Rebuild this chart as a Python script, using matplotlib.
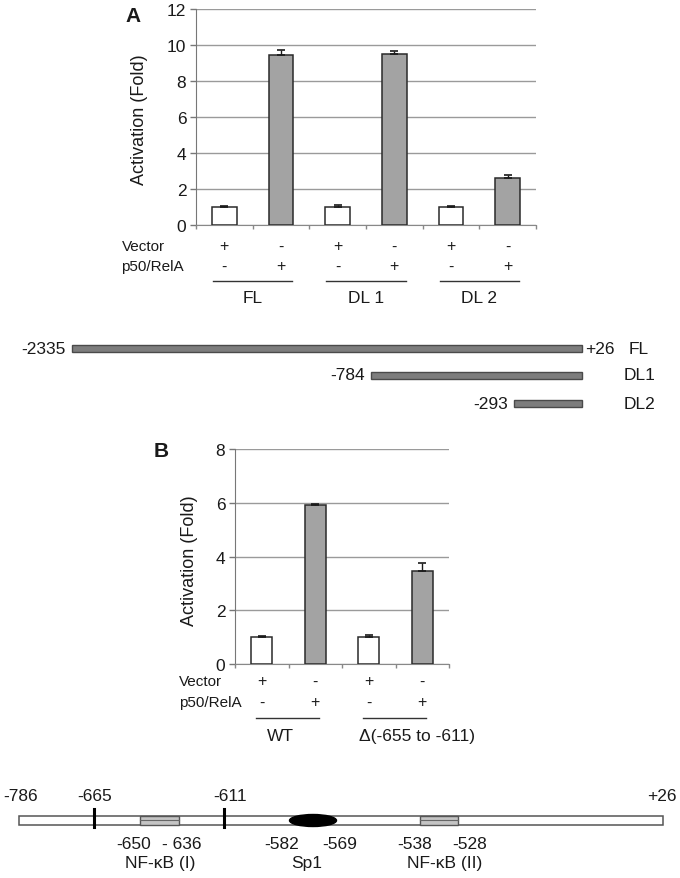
import matplotlib
matplotlib.use('Agg')
import matplotlib.pyplot as plt
from matplotlib.patches import Rectangle, Ellipse
from matplotlib import transforms
import numpy as np

plt.rcParams['font.family'] = ['Liberation Sans', 'DejaVu Sans']

# ---------------- data ----------------
A_groups = ["FL", "DL 1", "DL 2"]
A_vector_vals = [1.0, 1.0, 1.0]
A_vector_err = [0.03, 0.10, 0.03]
A_p50_vals = [9.45, 9.52, 2.62]
A_p50_err = [0.27, 0.12, 0.18]

B_groups = ["WT", "\u0394(-655 to -611)"]
B_vector_vals = [1.0, 1.0]
B_vector_err = [0.03, 0.08]
B_p50_vals = [5.9, 3.47]
B_p50_err = [0.07, 0.28]

vector_signs = ["+", "-"]
p50_signs = ["-", "+"]

construct_names = ["FL", "DL1", "DL2"]
construct_starts = ["-2335", "-784", "-293"]
construct_end = "+26"

top_labels = ["-786", "-665", "-611", "+26"]
site_names = ["NF-\u03baB (I)", "Sp1", "NF-\u03baB (II)"]
site_bounds = [("-650", "- 636"), ("-582", "-569"), ("-538", "-528")]

# ---------------- figure ----------------
W, H = 680, 879
fig = plt.figure(figsize=(6.8, 8.79), dpi=100)
ov = fig.add_axes([0, 0, 1, 1])
ov.set_xlim(0, W)
ov.set_ylim(H, 0)
ov.axis('off')

TXT = '#1a1a1a'


def px_axes(l, r, t, b):
    return fig.add_axes([l / W, 1 - b / H, (r - l) / W, (b - t) / H])


def bar_panel(ax, vec_vals, vec_err, p50_vals, p50_err, ymax, ystep, width):
    n = len(vec_vals)
    vals, errs, cols = [], [], []
    for v, e, p, pe in zip(vec_vals, vec_err, p50_vals, p50_err):
        vals += [v, p]
        errs += [e, pe]
        cols += ['white', '#a3a3a3']
    x = np.arange(2 * n)
    ax.bar(x, vals, width=width, color=cols, edgecolor='#2a2a2a', linewidth=1.1,
           yerr=[np.zeros(len(errs)), errs], capsize=3,
           error_kw=dict(ecolor='#1a1a1a', elinewidth=1.0, capthick=1.2), zorder=3)
    ax.set_xlim(-0.5, 2 * n - 0.5)
    ax.set_ylim(0, ymax)
    ax.set_yticks(np.arange(0, ymax + 0.1, ystep))
    ax.set_xticks(np.arange(-0.5, 2 * n, 1.0))
    ax.set_xticklabels([])
    ax.tick_params(axis='x', direction='out', length=3, color='#888', width=1)
    ax.tick_params(axis='y', direction='out', length=4, color='#777', width=1,
                   labelsize=12.5, labelcolor=TXT, pad=3)
    ax.yaxis.grid(True, color='#9a9a9a', linewidth=1.0, zorder=0)
    ax.set_axisbelow(True)
    for s in ['top', 'right']:
        ax.spines[s].set_visible(False)
    ax.spines['left'].set_color('#777')
    ax.spines['bottom'].set_color('#888')
    ax.patch.set_alpha(0)
    return x


# ---------------- Panel A ----------------
axA = px_axes(196, 536, 10, 226)
xA = bar_panel(axA, A_vector_vals, A_vector_err, A_p50_vals, A_p50_err, 12, 2, 0.44)
trA = transforms.blended_transform_factory(axA.transData, ov.transData)
for i in xA:
    ov.text(i, 247, vector_signs[i % 2], transform=trA, ha='center', va='center', fontsize=11.5, color=TXT)
    ov.text(i, 267, p50_signs[i % 2], transform=trA, ha='center', va='center', fontsize=11.5, color=TXT)
for g, name in enumerate(A_groups):
    i0 = 2 * g
    ov.plot([i0 - 0.2, i0 + 1.2], [282, 282], transform=trA, color='#333', lw=1.0)
    ov.text(i0 + 0.5, 299, name, transform=trA, ha='center', va='center', fontsize=12.5, color=TXT)
ov.text(122, 247, "Vector", ha='left', va='center', fontsize=11, color=TXT)
ov.text(121, 267, "p50/RelA", ha='left', va='center', fontsize=11, color=TXT)
ov.text(139, 120, "Activation (Fold)", rotation=90, ha='center', va='center', fontsize=13, color=TXT)
ov.text(133, 16, "A", ha='center', va='center', fontsize=15, fontweight='bold', color=TXT)

# ---------------- construct diagram ----------------
c_left = [72, 371, 514]
c_y = [349.5, 376, 404.5]
c_right = 582
for nm, st, xl, yc in zip(construct_names, construct_starts, c_left, c_y):
    ov.add_patch(Rectangle((xl, yc - 3.5), c_right - xl, 7, facecolor='#7d7d7d',
                           edgecolor='#4a4a4a', lw=1.0))
    ov.text(xl - 6, yc, st, ha='right', va='center', fontsize=12.5, color=TXT)
    ov.text(624 if nm != "FL" else 629, yc, nm, ha='left', va='center', fontsize=12.5, color=TXT)
ov.text(585, c_y[0], construct_end, ha='left', va='center', fontsize=12.5, color=TXT)

# ---------------- Panel B ----------------
axB = px_axes(235, 449, 450, 665)
xB = bar_panel(axB, B_vector_vals, B_vector_err, B_p50_vals, B_p50_err, 8, 2, 0.40)
trB = transforms.blended_transform_factory(axB.transData, ov.transData)
for i in xB:
    ov.text(i, 682, vector_signs[i % 2], transform=trB, ha='center', va='center', fontsize=11.5, color=TXT)
    ov.text(i, 703, p50_signs[i % 2], transform=trB, ha='center', va='center', fontsize=11.5, color=TXT)
grp_x = [0.35, 0.9]
for g, name in enumerate(B_groups):
    i0 = 2 * g
    ov.plot([i0 - 0.1, i0 + 1.07], [719, 719], transform=trB, color='#333', lw=1.0)
    ov.text(i0 + grp_x[g], 737, name, transform=trB, ha='center', va='center', fontsize=12.5, color=TXT)
ov.text(179, 682, "Vector", ha='left', va='center', fontsize=11, color=TXT)
ov.text(179, 703, "p50/RelA", ha='left', va='center', fontsize=11, color=TXT)
ov.text(189, 561, "Activation (Fold)", rotation=90, ha='center', va='center', fontsize=13, color=TXT)
ov.text(161, 452, "B", ha='center', va='center', fontsize=15, fontweight='bold', color=TXT)

# ---------------- promoter diagram ----------------
py0, py1 = 817, 826
ov.add_patch(Rectangle((19, py0), 663 - 19, py1 - py0, facecolor='white', edgecolor='#555', lw=1.1, zorder=2))
for bx0, bx1 in [(140, 179), (420, 458)]:
    ov.add_patch(Rectangle((bx0, py0), bx1 - bx0, py1 - py0, facecolor='#c4c4c4', edgecolor='#555', lw=1.0, zorder=3))
    ov.plot([bx0, bx1], [(py0 + py1) / 2, (py0 + py1) / 2], color='#666', lw=0.8, zorder=4)
ov.add_patch(Ellipse((313, (py0 + py1) / 2), 47, 12, facecolor='black', edgecolor='black', zorder=4))
for tx in [94, 224]:
    ov.plot([tx, tx], [810, 828], color='black', lw=2.2, zorder=5)
for lab, lx in zip(top_labels, [21, 95, 230, 662]):
    ov.text(lx, 797, lab, ha='center', va='center', fontsize=12.5, color=TXT)
bound_x = [(134, 182), (282, 340), (415, 470)]
name_x = [160, 307, 445]
for (b0, b1), (x0, x1), nm, nx in zip(site_bounds, bound_x, site_names, name_x):
    ov.text(x0, 845, b0, ha='center', va='center', fontsize=12.5, color=TXT)
    ov.text(x1, 845, b1, ha='center', va='center', fontsize=12.5, color=TXT)
    ov.text(nx, 864, nm, ha='center', va='center', fontsize=12.5, color=TXT)

fig.savefig('out.png', dpi=100)
